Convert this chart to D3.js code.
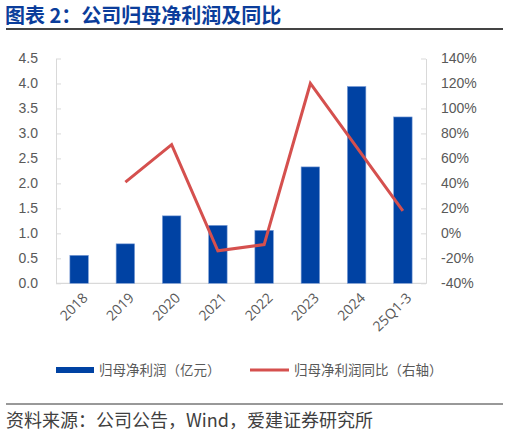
<!DOCTYPE html>
<html>
<head>
<meta charset="utf-8">
<script src="https://cdn.jsdelivr.net/npm/d3@7"></script>
<style>
  body { margin: 0; background: #fff; }
  svg { display: block; font-family: "Open Sans", "Noto Sans CJK SC", sans-serif; }
</style>
</head>
<body>
<svg id="chart" width="509" height="435"></svg>
<script>
// chart data
const categories = ["2018", "2019", "2020", "2021", "2022", "2023", "2024", "25Q1-3"];
const profit = [0.56, 0.79, 1.35, 1.16, 1.06, 2.33, 3.94, 3.33];   // 亿元
const yoy = [null, 41, 71, -14, -9, 120, 69, 18];                   // %
const leftTicks = [0, 0.5, 1.0, 1.5, 2.0, 2.5, 3.0, 3.5, 4.0, 4.5];
const rightTicks = [-40, -20, 0, 20, 40, 60, 80, 100, 120, 140];

const svg = d3.select("#chart");
const plotLeft = 56, plotRight = 426, plotTop = 58.5, plotBottom = 283.3;
const grey = "#595959", axisColor = "#d9d9d9";
const barColor = "#0042a3", lineColor = "#d5504e";

// title
svg.append("text")
    .attr("x", 5).attr("y", 23)
    .style("font-size", "20px").style("font-weight", "bold")
    .style("font-family", "'Noto Sans CJK SC', sans-serif")
    .attr("fill", "#0b3d9b")
    .text("图表 2：公司归母净利润及同比");
svg.append("line")
    .attr("x1", 6).attr("x2", 503).attr("y1", 29).attr("y2", 29)
    .attr("stroke", "#444").attr("stroke-width", 2);

let x = d3.scaleBand().domain(categories).range([plotLeft, plotRight]).paddingInner(0.6).paddingOuter(0.3);
let xc = d3.scaleBand().domain(categories).range([plotLeft, plotRight]);
let yL = d3.scaleLinear().domain([0, 4.5]).range([plotBottom, plotTop]);
let yR = d3.scaleLinear().domain([-40, 140]).range([plotBottom, plotTop]);

// left axis
let gL = svg.append("g").attr("transform", "translate(" + plotLeft + ",0)")
    .call(d3.axisLeft(yL).tickValues(leftTicks).tickFormat(d3.format(".1f")).tickSizeInner(-5).tickSizeOuter(0).tickPadding(18));
// right axis
let gR = svg.append("g").attr("transform", "translate(" + plotRight + ",0)")
    .call(d3.axisRight(yR).tickValues(rightTicks).tickFormat(d => d + "%").tickSizeInner(-5).tickSizeOuter(0).tickPadding(15));
[gL, gR].forEach(g => {
    g.select(".domain").attr("stroke", axisColor);
    g.selectAll(".tick line").attr("stroke", axisColor);
    g.selectAll(".tick text").attr("fill", grey).style("font-size", "14px");
});

// bottom axis
svg.append("line")
    .attr("x1", plotLeft).attr("x2", plotRight).attr("y1", plotBottom).attr("y2", plotBottom)
    .attr("stroke", axisColor).attr("stroke-width", 1.2);

svg.append("g").selectAll("text")
    .data(categories)
    .join("text")
    .attr("transform", d => "translate(" + (xc(d) + xc.bandwidth() / 2 + 6) + "," + (plotBottom + 12) + ") rotate(-45)")
    .attr("text-anchor", "end")
    .attr("dy", "0.35em")
    .attr("fill", grey)
    .style("font-size", "14px")
    .text(d => d);

// bars
svg.append("g").selectAll("rect")
    .data(profit)
    .join("rect")
    .attr("x", (d, i) => x(categories[i]))
    .attr("width", x.bandwidth())
    .attr("y", d => yL(d))
    .attr("height", d => plotBottom - yL(d))
    .attr("fill", barColor)
    .attr("stroke", "#7fa0d8")
    .attr("stroke-width", 0.6);

// yoy line
let line = d3.line()
    .defined(d => d != null)
    .x((d, i) => xc(categories[i]) + xc.bandwidth() / 2)
    .y(d => yR(d));
svg.append("path")
    .datum(yoy)
    .attr("d", line)
    .attr("fill", "none")
    .attr("stroke", lineColor)
    .attr("stroke-width", 3);

// legend
let lg = svg.append("g").style("font-size", "13.5px").style("font-family", "'Noto Sans CJK SC', sans-serif");
lg.append("rect").attr("x", 56).attr("y", 367).attr("width", 38).attr("height", 6).attr("fill", barColor);
lg.append("text").attr("x", 99).attr("y", 370).attr("dy", "0.35em").attr("fill", grey).text("归母净利润（亿元）");
lg.append("line").attr("x1", 250).attr("x2", 289).attr("y1", 370).attr("y2", 370)
    .attr("stroke", lineColor).attr("stroke-width", 3);
lg.append("text").attr("x", 294).attr("y", 370).attr("dy", "0.35em").attr("fill", grey).text("归母净利润同比（右轴）");

// source
svg.append("line")
    .attr("x1", 6).attr("x2", 503).attr("y1", 404).attr("y2", 404)
    .attr("stroke", "#333").attr("stroke-width", 1);
svg.append("text")
    .attr("x", 6).attr("y", 427)
    .style("font-size", "18px")
    .style("font-family", "'Noto Sans CJK SC', sans-serif")
    .attr("fill", "#404040")
    .text("资料来源：公司公告，Wind，爱建证券研究所");
</script>
</body>
</html>
